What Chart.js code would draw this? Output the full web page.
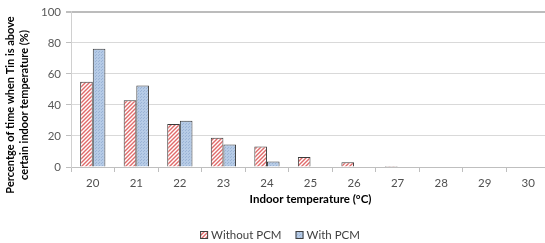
<!DOCTYPE html>
<html>
<head>
<meta charset="utf-8">
<script src="https://cdn.jsdelivr.net/npm/chart.js@4"></script>
<style>
  html, body { margin: 0; padding: 0; background: #fff; overflow: hidden; }
  #wrap { width: 552px; height: 243px; }
</style>
</head>
<body>
<div id="wrap"><canvas id="pcmChart" width="552" height="243"></canvas></div>
<script>
// temperatures on the x axis
const temps = ["20", "21", "22", "23", "24", "25", "26", "27", "28", "29", "30"];
// % of time Tin is above the given temperature
const withoutPcm = [55, 43, 27.7, 18.8, 13.2, 6.4, 3.1, 0.6, 0, 0, 0];
const withPcm = [76.2, 52.6, 29.8, 14.5, 3.6, 0, 0, 0, 0, 0, 0];
const yTicks = [0, 20, 40, 60, 80, 100];

const yTitle = ["Percentge of time when Tin is above", "certain indoor temperature (%)"];
const FONT = "Lato, 'Open Sans', sans-serif";

function hatchPattern() {
  const c = document.createElement("canvas");
  c.width = 4; c.height = 4;
  const g = c.getContext("2d");
  g.fillStyle = "#ffffff";
  g.fillRect(0, 0, 4, 4);
  g.strokeStyle = "#e06a6a";
  g.lineWidth = 1.4;
  g.beginPath();
  g.moveTo(-1, 5); g.lineTo(5, -1);
  g.moveTo(-1, 1); g.lineTo(1, -1);
  g.moveTo(3, 5); g.lineTo(5, 3);
  g.stroke();
  return g.createPattern(c, "repeat");
}

function dotPattern() {
  const c = document.createElement("canvas");
  c.width = 3; c.height = 3;
  const g = c.getContext("2d");
  g.fillStyle = "#b6cbe6";
  g.fillRect(0, 0, 3, 3);
  g.fillStyle = "#9ab3d6";
  g.fillRect(0, 0, 1, 1);
  g.fillRect(2, 1, 1, 1);
  return g.createPattern(c, "repeat");
}

// y axis title in two lines + legend, placed like the original
const extrasPlugin = {
  id: "extras",
  afterDraw(chart) {
    const ctx = chart.ctx;
    ctx.save();
    ctx.font = "bold 11px " + FONT;
    ctx.fillStyle = "#000";
    ctx.textAlign = "center";
    ctx.textBaseline = "middle";
    [10, 24].forEach((x, i) => {
      ctx.save();
      ctx.translate(x, 105);
      ctx.rotate(-Math.PI / 2);
      ctx.fillText(yTitle[i], 0, 0);
      ctx.restore();
    });

    // legend
    ctx.font = "11.5px " + FONT;
    ctx.textAlign = "left";
    const box = 8, gap = 3, between = 14;
    const items = chart.data.datasets.map((ds) => ({
      label: ds.label, fill: ds.backgroundColor, w: box + gap + ctx.measureText(ds.label).width,
    }));
    const total = items.reduce((s, it) => s + it.w, 0) + between * (items.length - 1);
    let x = 280 - total / 2;
    const y = 235;
    items.forEach((it) => {
      ctx.fillStyle = it.fill;
      ctx.fillRect(x, y - box / 2, box, box);
      ctx.strokeStyle = "#404040";
      ctx.lineWidth = 1;
      ctx.strokeRect(x + 0.5, y - box / 2 + 0.5, box - 1, box - 1);
      ctx.fillStyle = "#404040";
      ctx.fillText(it.label, x + box + gap, y);
      x += it.w + between;
    });
    ctx.restore();
  }
};

const ctx = document.getElementById("pcmChart").getContext("2d");
new Chart(ctx, {
  type: "bar",
  data: {
    labels: temps,
    datasets: [
      {
        label: "Without PCM",
        data: withoutPcm,
        backgroundColor: hatchPattern(),
        borderColor: "#3a3a3a",
        borderWidth: 1,
        borderSkipped: "bottom",
      },
      {
        label: "With PCM",
        data: withPcm,
        backgroundColor: dotPattern(),
        borderColor: "#3a3a3a",
        borderWidth: 1,
        borderSkipped: "bottom",
      },
    ],
  },
  options: {
    responsive: false,
    animation: false,
    categoryPercentage: 0.58,
    barPercentage: 1,
    layout: { padding: { top: 10, right: 2, left: 0, bottom: 0 } },
    scales: {
      x: {
        afterFit: (scale) => { scale.height = 76; },
        grid: {
          offset: true,
          drawOnChartArea: false,
          drawTicks: true,
          tickLength: 5,
          tickColor: "#bfbfbf",
        },
        border: { color: "#bfbfbf" },
        ticks: { color: "#505050", font: { family: FONT, size: 11.5 }, padding: 4 },
        title: {
          display: true,
          text: "Indoor temperature (°C)",
          color: "#000",
          font: { family: FONT, size: 11.5, weight: "bold" },
          padding: { top: 2, bottom: 37 },
        },
      },
      y: {
        min: 0,
        max: 100,
        afterBuildTicks: (scale) => { scale.ticks = yTicks.map((v) => ({ value: v })); },
        afterFit: (scale) => { scale.width = 71; },
        grid: {
          color: (c) => (c.tick && c.tick.value === 100 ? "#bcbcbc" : "#d9d9d9"),
          lineWidth: (c) => (c.tick && c.tick.value === 100 ? 2 : 1),
          tickLength: 5,
          tickColor: "#bfbfbf",
        },
        border: { color: "#d0d0d0" },
        ticks: { color: "#595959", font: { family: FONT, size: 11.5 }, padding: 5 },
      },
    },
    plugins: {
      legend: { display: false },
      tooltip: { enabled: false },
    },
  },
  plugins: [extrasPlugin],
});
</script>
</body>
</html>
